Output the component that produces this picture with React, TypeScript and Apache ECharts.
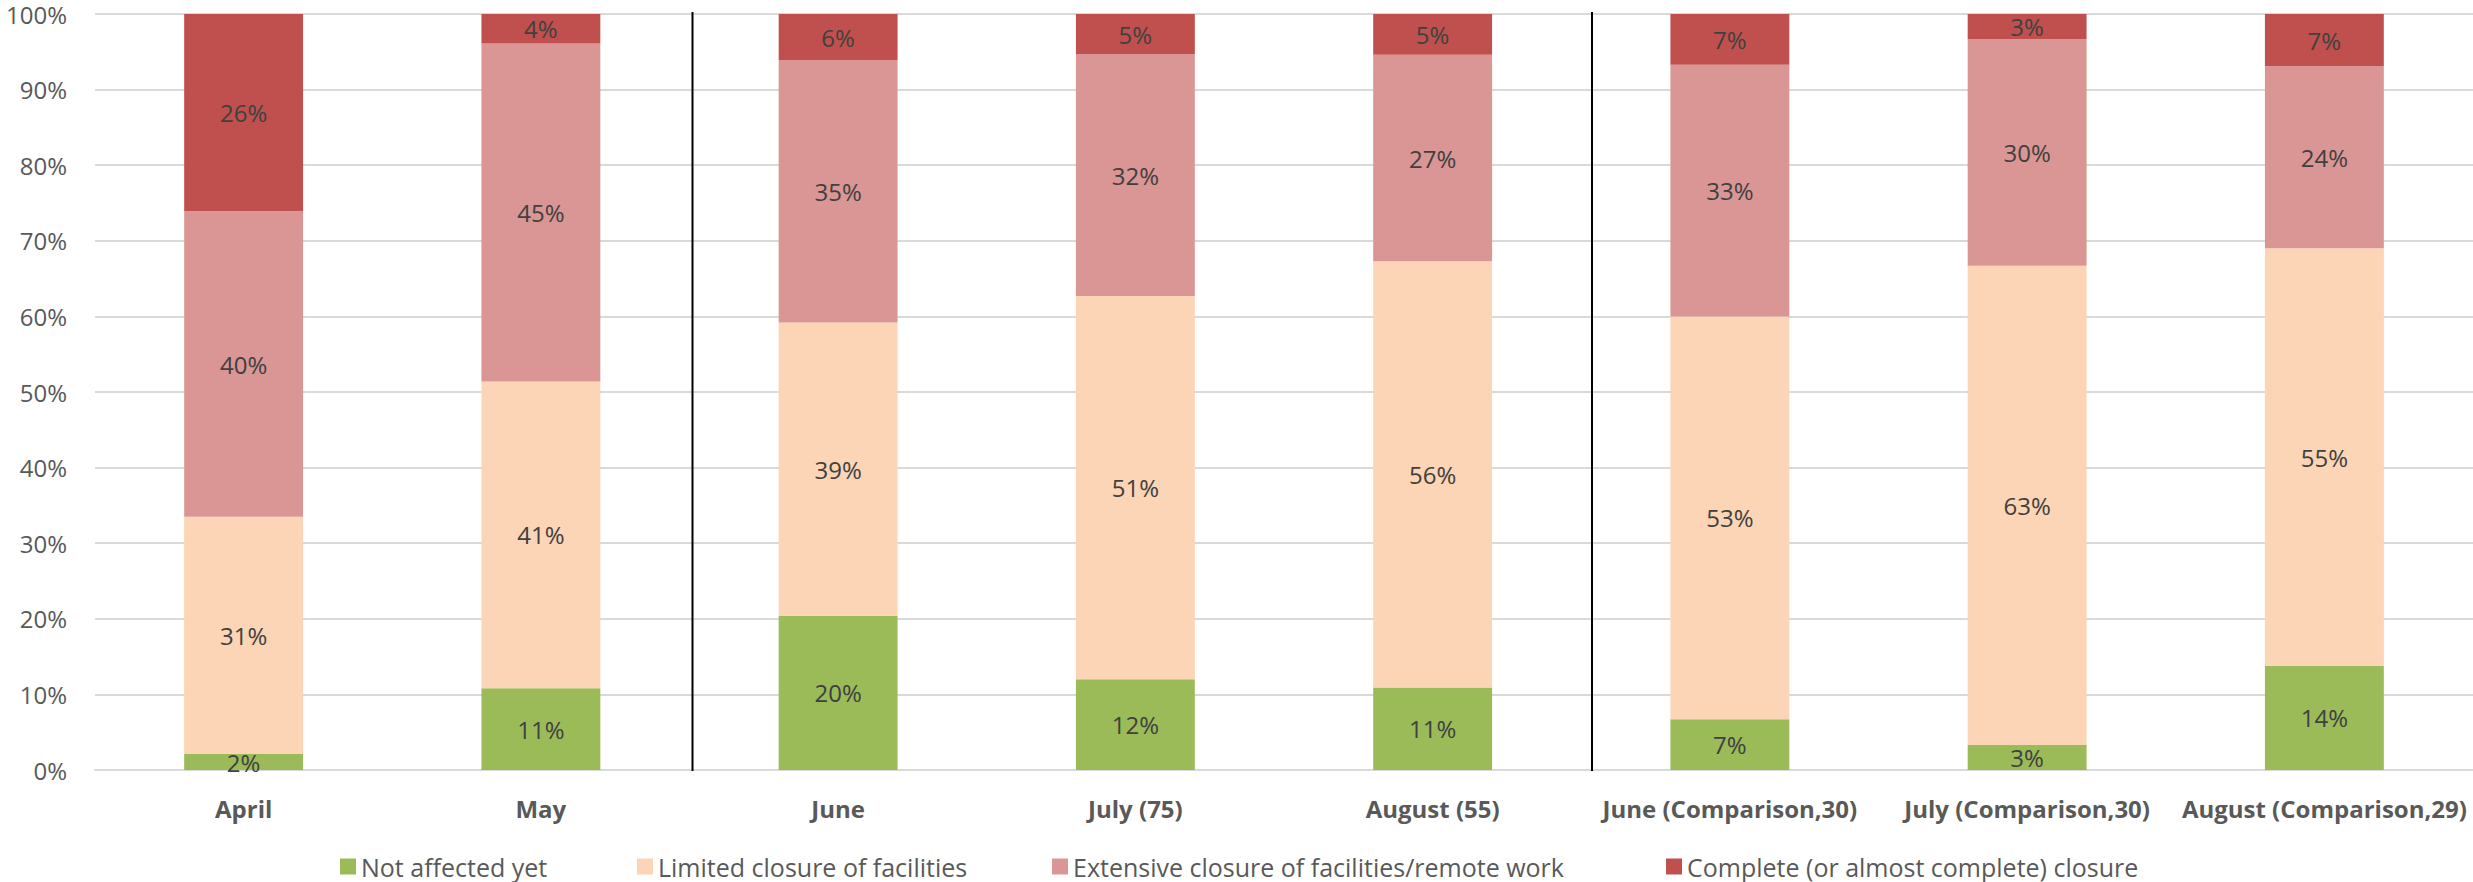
import React, { useEffect, useRef } from "react";
import * as echarts from "echarts";

const categories = [
  "April",
  "May",
  "June",
  "July (75)",
  "August (55)",
  "June (Comparison,30)",
  "July (Comparison,30)",
  "August (Comparison,29)",
];

const seriesNames = [
  "Not affected yet",
  "Limited closure of facilities",
  "Extensive closure of facilities/remote work",
  "Complete (or almost complete) closure",
];

const notAffected = [2.1, 10.8, 20.4, 12.0, 10.9, 6.7, 3.3, 13.8];
const limitedClosure = [31.4, 40.6, 38.8, 50.7, 56.4, 53.3, 63.4, 55.2];
const extensiveClosure = [40.4, 44.7, 34.7, 32.0, 27.3, 33.3, 30.0, 24.1];
const completeClosure = [26.1, 3.9, 6.1, 5.3, 5.4, 6.7, 3.3, 6.9];

const yTicks = { min: 0, max: 100, interval: 10 };

const colors = ["#9BBB59", "#FBD5B5", "#DA9694", "#C0504D"];

const legendLefts = [340, 637, 1052, 1666];

export default function App() {
  const ref = useRef<HTMLDivElement>(null);

  useEffect(() => {
    if (!ref.current) return;
    const chart = echarts.init(ref.current, undefined, { renderer: "svg" });
    const font = "'Open Sans', sans-serif";
    const dataSets = [notAffected, limitedClosure, extensiveClosure, completeClosure];

    const option: any = {
      animation: false,
      textStyle: { fontFamily: font },
      grid: { left: 95, right: 0, top: 14, bottom: 112, containLabel: false },
      legend: seriesNames.map((name, i) => ({
        data: [name],
        left: legendLefts[i],
        top: 854,
        padding: 0,
        itemWidth: 16,
        itemHeight: 16,
        icon: "rect",
        textStyle: { fontFamily: font, fontSize: 25, color: "#595959" },
      })),
      xAxis: {
        type: "category",
        data: categories,
        axisLine: { show: true, lineStyle: { color: "#D9D9D9", width: 2 } },
        axisTick: { show: false },
        axisLabel: {
          interval: 0,
          margin: 26,
          fontFamily: font,
          fontSize: 24,
          fontWeight: "bold",
          color: "#595959",
        },
      },
      yAxis: {
        type: "value",
        min: yTicks.min,
        max: yTicks.max,
        interval: yTicks.interval,
        axisLine: { show: false },
        axisTick: { show: false },
        splitLine: { lineStyle: { color: "#D9D9D9", width: 2 } },
        axisLabel: {
          formatter: "{value}%",
          margin: 28,
          fontFamily: font,
          fontSize: 24,
          color: "#595959",
        },
      },
      series: seriesNames.map((name, i) => ({
        name,
        type: "bar",
        stack: "total",
        barWidth: "40%",
        data: dataSets[i],
        itemStyle: { color: colors[i] },
        label: {
          show: true,
          position: "inside",
          fontFamily: font,
          fontSize: 24,
          color: "#404040",
          formatter: (p: any) => Math.round(p.value) + "%",
        },
      })),
      graphic: [
        {
          type: "line",
          shape: { x1: 692.5, y1: 12, x2: 692.5, y2: 771 },
          style: { stroke: "#000000", lineWidth: 2 },
          z: 100,
        },
        {
          type: "line",
          shape: { x1: 1592, y1: 12, x2: 1592, y2: 771 },
          style: { stroke: "#000000", lineWidth: 2 },
          z: 100,
        },
      ],
    };

    chart.setOption(option);
    return () => chart.dispose();
  }, []);

  return (
    <div
      ref={ref}
      style={{ position: "absolute", left: 0, top: 0, width: 2473, height: 882 }}
    />
  );
}
